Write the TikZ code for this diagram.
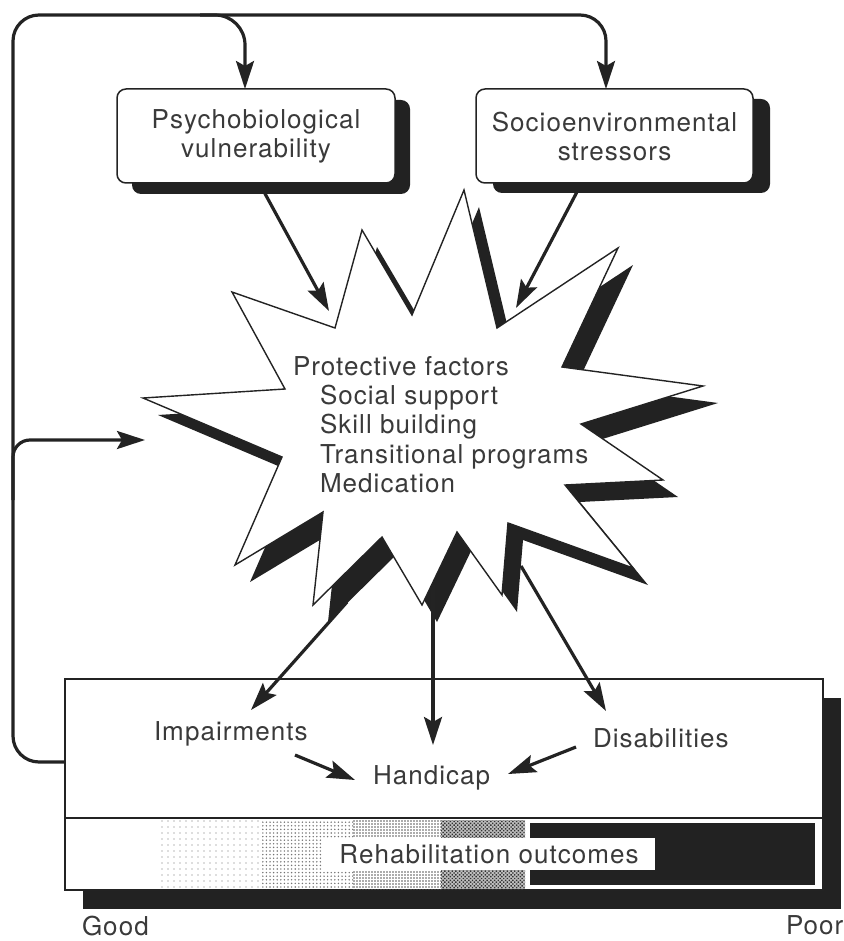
\documentclass[tikz,border=0pt]{standalone}
\usepackage{fontspec}
\setmainfont{TeX Gyre Heros}[LetterSpace=4]
\usetikzlibrary{arrows.meta,shadows,patterns.meta}
\definecolor{ink}{HTML}{232323}
\definecolor{txt}{HTML}{3A3A3A}
\definecolor{shadowc}{HTML}{222222}
\pgfdeclarelayer{bg}
\pgfsetlayers{bg,main}
\newcommand\burstpath{(232,292) -- (335,328) -- (362,230) -- (412,315) -- (464,190) -- (497,328) -- (618,248) -- (562,367) -- (703,386) -- (581,424) -- (663,480) -- (565,485) -- (633,568) -- (508,523) -- (502,595) -- (457,532) -- (422,605) -- (382,537) -- (313,605) -- (323,512) -- (235,565) -- (282,457) -- (143,398) -- (285,389) -- cycle}
\begin{document}
\begin{tikzpicture}[x=1pt,y=-1pt,
  every node/.style={text=txt, font=\fontsize{26}{29}\selectfont, inner sep=0pt, outer sep=0pt},
  lbl/.style={anchor=base west},
  conn/.style={draw=ink, line width=3.2pt},
  arr/.style={-{Stealth[length=28pt,width=18pt,inset=5pt]}},
  rbox/.style={draw=ink, line width=1.5pt, fill=white, rounded corners=9pt, align=center, minimum height=94pt},
  shad/.style 2 args={drop shadow={shadow xshift=#1, shadow yshift=#2, fill=shadowc, opacity=1}},
]
\useasboundingbox (0,0) rectangle (843,941);

% top boxes
\node[rbox, minimum width=278pt, shad={15pt}{-11pt}] (pv) at (256,136) {Psychobiological\\vulnerability};
\node[rbox, minimum width=277pt, shad={17pt}{-10pt}] (sv) at (614.5,136) {Socioenvironmental\\stressors};

% connector end points
\coordinate (bbout) at (65,762);
\coordinate (pvin) at (245,89);
\coordinate (svin) at (606,89);
\coordinate (burstin) at (145,440);
\coordinate (a1s) at (263,190);
\coordinate (a1e) at (329,311);
\coordinate (a2s) at (578,190);
\coordinate (a2e) at (516,308);

\begin{pgfonlayer}{bg}
\draw[conn, arr, rounded corners=26pt] (bbout) -- (13,762) -- (13,15) -- (606,15) -- (svin);
\draw[conn, arr, rounded corners=30pt] (200,15) -- (245,15) -- (pvin);
\draw[conn, arr, rounded corners=17pt] (13,500) -- (13,440) -- (burstin);
\draw[conn, arr] (a1s) -- (a1e);
\draw[conn, arr] (a2s) -- (a2e);
\end{pgfonlayer}

% starburst
\fill[shadowc, shift={(15,17)}] \burstpath;
\filldraw[fill=white, draw=ink, line width=1.4pt, line join=miter] \burstpath;
\node[lbl] (pf) at (293,375) {Protective factors};
\node[lbl] (ss) at (320,404) {Social support};
\node[lbl] (sb) at (320,433) {Skill building};
\node[lbl] (tp) at (320,463) {Transitional programs};
\node[lbl] (md) at (320,492) {Medication};

% outcome box
\node[draw=ink, line width=1.5pt, fill=white, minimum width=758pt, minimum height=211pt, shad={18pt}{-19pt}] (bb) at (444,784.5) {};
\draw[ink, line width=1.5pt] (65,818) -- (823,818);
\fill[pattern={Dots[radius=0.7pt, distance=6pt]}, pattern color=black!55] (158,820) rectangle (260,889);
\fill[pattern={Dots[radius=0.8pt, distance=3.6pt]}, pattern color=black!55] (260,820) rectangle (353,889);
\fill[pattern={Dots[radius=0.9pt, distance=3pt]}, pattern color=black!65] (353,820) rectangle (441,889);
\fill[black!25] (441,820) rectangle (525,889);
\fill[pattern={Dots[radius=1.0pt, distance=2.6pt, angle=45]}, pattern color=black!80] (441,820) rectangle (525,889);
\fill[shadowc] (530,823) rectangle (815,885);
\node[fill=white, minimum width=332pt, minimum height=32pt] (ro) at (489,854) {Rehabilitation outcomes};

\node[lbl] (imp) at (154,740) {Impairments};
\node[lbl] (hc) at (373,784) {Handicap};
\node[lbl] (dis) at (593,747) {Disabilities};
\node[lbl] (good) at (82,935) {Good};
\node[lbl] (poor) at (786,934) {Poor};

% arrows from the starburst and within the box
\coordinate (s1) at (347,602); \coordinate (e1) at (251,710);
\coordinate (s2) at (433,585); \coordinate (e2) at (433,745);
\coordinate (s3) at (521,566); \coordinate (e3) at (606,711);
\draw[conn, arr] (s1) -- (e1);
\draw[conn, arr] (s2) -- (e2);
\draw[conn, arr] (s3) -- (e3);
\coordinate (ih1) at (295,755); \coordinate (ih2) at (355,780);
\coordinate (dh1) at (576,747); \coordinate (dh2) at (508,774);
\draw[conn, arr] (ih1) -- (ih2);
\draw[conn, arr] (dh1) -- (dh2);
\end{tikzpicture}
\end{document}
